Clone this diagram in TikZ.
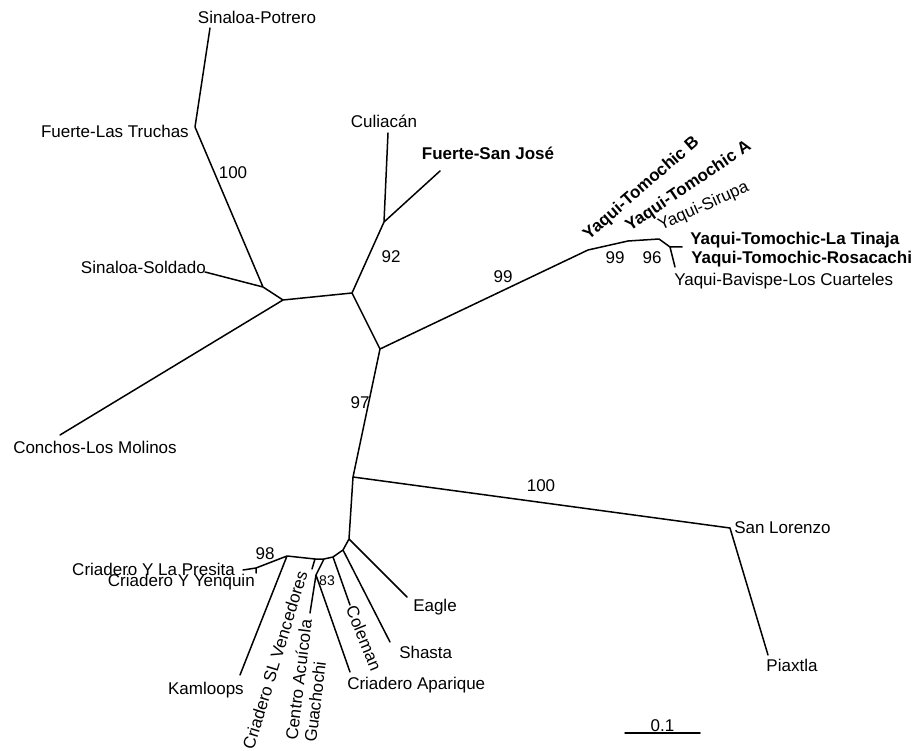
\documentclass[tikz,border=0pt]{standalone}
\usepackage{fontspec}
\setmainfont{Liberation Sans}
\newcommand\treefont{\fontsize{17}{19}\selectfont}
\begin{document}
\begin{tikzpicture}[x=1pt, y=-1pt, font=\treefont, line join=round, line cap=round, line width=1.5pt]
\tikzset{lab/.style={inner sep=0.5pt, font=\treefont},
  blab/.style={inner sep=0.5pt, font=\treefont\bfseries},
  boot/.style={inner sep=0.5pt, font=\treefont}}
\useasboundingbox (0,0) rectangle (916,751);
% upper clades
\coordinate (potrero) at (210,28);
\coordinate (truchas) at (195,127);
\coordinate (nA) at (263,287);
\coordinate (soldado) at (205,272);
\coordinate (nB) at (283,300);
\coordinate (conchos) at (60,435);
\coordinate (nC) at (352,293);
\coordinate (nD) at (384,222);
\coordinate (culiacan) at (388,133);
\coordinate (sanjose) at (440,171);
\coordinate (nE) at (380,349);
% Yaqui clade
\coordinate (nF) at (588,250);
\coordinate (nG) at (628,241);
\coordinate (nH) at (659,239);
\coordinate (nI) at (670,247);
\coordinate (tinaja) at (682,247);
\coordinate (rosa) at (675,267);
% lower clades
\coordinate (nJ) at (353,477);
\coordinate (lorenzo) at (730,528);
\coordinate (piaxtla) at (768,655);
\coordinate (nK) at (349,539);
\coordinate (eagle) at (407,597);
\coordinate (nN) at (343,550);
\coordinate (shasta) at (390,642);
\coordinate (nM) at (333,557);
\coordinate (coleman) at (350,605);
\coordinate (nO) at (324,559);
\coordinate (nS) at (316,575);
\coordinate (guachochi) at (310,613);
\coordinate (aparique) at (350,672);
\coordinate (nR) at (315,559);
\coordinate (vencedores) at (312,569);
\coordinate (nQ) at (287,556);
\coordinate (kamloops) at (240,675);
\coordinate (nP) at (256,568);
\coordinate (presita) at (243,570);
\coordinate (yenquin) at (256,573);
% branches
\draw (potrero)--(truchas)--(nA)--(nB)--(nC)--(nD)--(culiacan) (nD)--(sanjose)
  (nA)--(soldado) (nB)--(conchos) (nC)--(nE)--(nF)--(nG)--(nH)--(nI)--(tinaja)
  (nI)--(rosa);
\draw (nE)--(nJ)--(lorenzo)--(piaxtla) (nJ)--(nK)--(eagle) (nK)--(nN)--(shasta)
  (nN)--(nM)--(coleman) (nM)--(nO)--(nS)--(guachochi) (nS)--(aparique)
  (nO)--(nR)--(vencedores) (nR)--(nQ)--(kamloops) (nQ)--(nP)--(presita) (nP)--(yenquin);
% taxa
\node[lab] (tPotrero) at (257,17) {Sinaloa-Potrero};
\node[lab, anchor=east] (tTruchas) at (190,131) {Fuerte-Las Truchas};
\node[lab, anchor=east] (tSoldado) at (207,267) {Sinaloa-Soldado};
\node[lab] (tConchos) at (95,447) {Conchos-Los Molinos};
\node[lab] (tCuliacan) at (384,121) {Culiacán};
\node[blab] (tSanJose) at (488,153) {Fuerte-San José};
\node[blab, rotate=41, anchor=base west] (tTomB) at (588,241) {Yaqui-Tomochic B};
\node[blab, rotate=34, anchor=base west] (tTomA) at (629,232) {Yaqui-Tomochic A};
\node[lab, rotate=24, anchor=base west] (tSirupa) at (660,231) {Yaqui-Sirupa};
\node[blab, anchor=base west] (tTinaja) at (689,245) {Yaqui-Tomochic-La Tinaja};
\node[blab, anchor=base west] (tRosa) at (690,264) {Yaqui-Tomochic-Rosacachi};
\node[lab, anchor=base west] (tBavispe) at (673,286) {Yaqui-Bavispe-Los Cuarteles};
\node[lab, anchor=west] (tLorenzo) at (733,528) {San Lorenzo};
\node[lab] (tPiaxtla) at (792,665) {Piaxtla};
\node[lab, anchor=west] (tEagle) at (412,607) {Eagle};
\node[lab, anchor=west] (tShasta) at (398,652) {Shasta};
\node[lab, rotate=-68] (tColeman) at (364,638) {Coleman};
\node[lab, anchor=west] (tAparique) at (346,685) {Criadero Aparique};
\node[lab, rotate=83, align=left] (tGuachochi) at (308,681) {Centro Acuícola\\Guachochi};
\node[lab, rotate=73] (tVencedores) at (275,660) {Criadero SL Vencedores};
\node[lab, anchor=east] (tKamloops) at (245,690) {Kamloops};
\node[lab, anchor=east] (tPresita) at (236,569) {Criadero Y La Presita};
\node[lab, anchor=east] (tYenquin) at (256,582) {Criadero Y Yenquin};
% bootstrap values
\node[boot] (b1) at (233,173) {100};
\node[boot] (b2) at (391,257) {92};
\node[boot] (b3) at (503,277) {99};
\node[boot] (b4) at (615,258) {99};
\node[boot] (b5) at (652,258) {96};
\node[boot] (b6) at (360,403) {97};
\node[boot] (b7) at (541,486) {100};
\node[boot] (b8) at (265,554) {98};
\node[boot, font=\fontsize{14}{16}\selectfont] (b9) at (327,581) {83};
% scale bar
\coordinate (sbL) at (625,733);
\coordinate (sbR) at (700,733);
\draw (sbL)--(sbR) node[midway, above, lab] (sbT) {0.1};
\end{tikzpicture}
\end{document}
